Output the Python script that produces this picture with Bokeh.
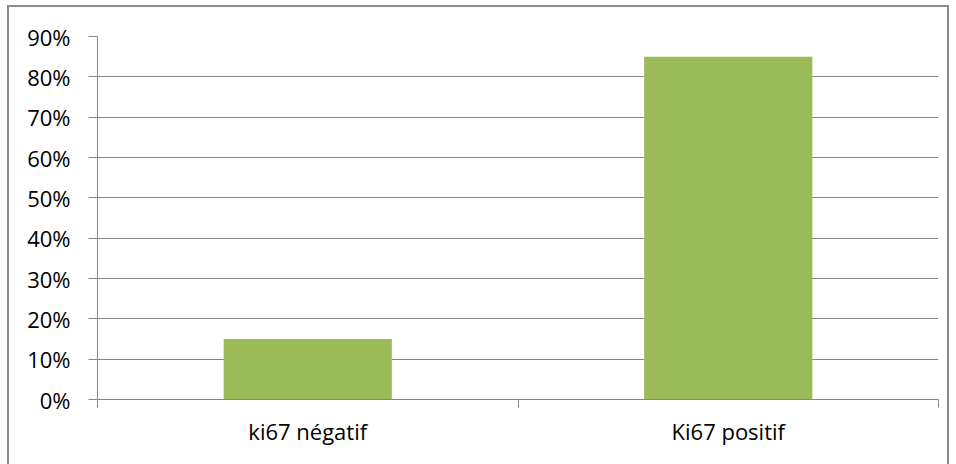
from bokeh.plotting import figure
from bokeh.models import (FixedTicker, NumeralTickFormatter, Range1d,
                          ColumnDataSource, InlineStyleSheet)
from bokeh.embed import file_html
from bokeh.resources import INLINE

# Share of cases by Ki67 status
categories = ["ki67 négatif", "Ki67 positif"]
shares = [0.15, 0.85]
y_ticks = [0.0, 0.1, 0.2, 0.3, 0.4, 0.5, 0.6, 0.7, 0.8, 0.9]

FONT = "Open Sans"
FONT_SIZE = "22px"
GREY = "#868686"
BAR = "#9BBB59"

centers = [i + 0.5 for i in range(len(categories))]
src = ColumnDataSource(dict(x=centers, top=shares, cat=categories))

p = figure(width=956, height=464, output_backend="svg", toolbar_location=None,
           x_range=Range1d(0, len(categories)), y_range=Range1d(0, 0.9),
           min_border_left=97, min_border_right=18, min_border_top=36,
           min_border_bottom=65)
p.outline_line_color = None
p.background_fill_color = "white"
p.border_fill_color = "white"

p.vbar(x="x", top="top", width=0.4, bottom=0, source=src,
       fill_color=BAR, line_color=None)

# y axis: percent labels, outward ticks
p.yaxis.ticker = FixedTicker(ticks=y_ticks)
p.yaxis.formatter = NumeralTickFormatter(format="0%")
p.yaxis.axis_line_color = GREY
p.yaxis.major_tick_line_color = GREY
p.yaxis.major_tick_out = 9
p.yaxis.major_tick_in = 0
p.yaxis.minor_tick_line_color = None
p.yaxis.major_label_text_font = FONT
p.yaxis.major_label_text_font_size = FONT_SIZE
p.yaxis.major_label_text_color = "black"
p.yaxis.major_label_standoff = 18

# x axis: labels at category centres, tick marks between categories
p.xaxis.ticker = FixedTicker(ticks=centers,
                             minor_ticks=list(range(len(categories) + 1)))
p.xaxis.major_label_overrides = {c: n for c, n in zip(centers, categories)}
p.xaxis.axis_line_color = GREY
p.xaxis.major_tick_line_color = None
p.xaxis.major_tick_out = 0
p.xaxis.major_tick_in = 0
p.xaxis.minor_tick_line_color = GREY
p.xaxis.minor_tick_out = 8
p.xaxis.minor_tick_in = 0
p.xaxis.major_label_text_font = FONT
p.xaxis.major_label_text_font_size = FONT_SIZE
p.xaxis.major_label_text_color = "black"
p.xaxis.major_label_standoff = 8

p.xgrid.grid_line_color = None
p.ygrid.ticker = FixedTicker(ticks=y_ticks)
p.ygrid.grid_line_color = GREY
p.ygrid.grid_line_width = 1

# chart border drawn around the canvas
p.stylesheets = [InlineStyleSheet(css="""
:host { position: relative; }
:host::after {
  content: '';
  position: absolute;
  left: 7px; top: 5px; width: 942px; height: 459px;
  border: 2px solid #8c8c8c; border-bottom: none;
  box-sizing: border-box; pointer-events: none; z-index: 100;
}
""")]

open("out.html", "w").write(file_html(p, INLINE))
